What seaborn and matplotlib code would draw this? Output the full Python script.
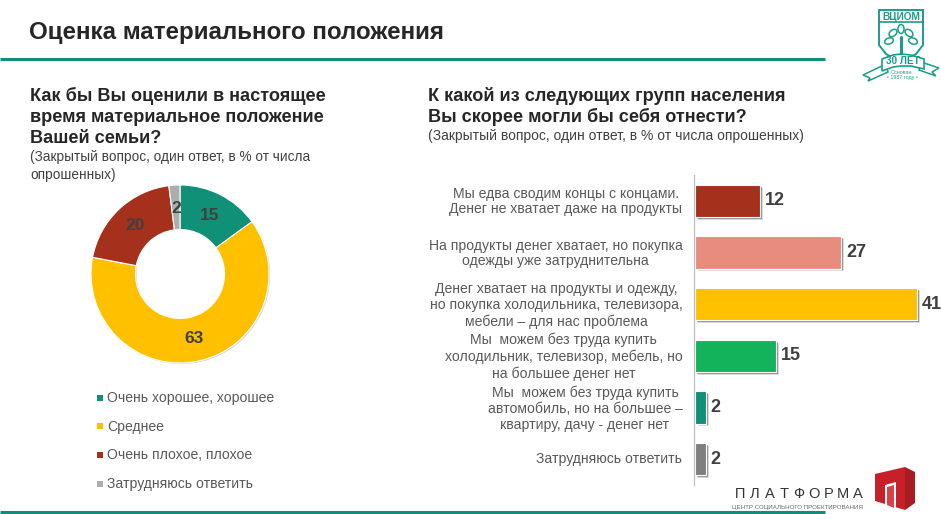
import matplotlib
matplotlib.use("Agg")
import matplotlib.pyplot as plt
import matplotlib.patheffects as pe
from matplotlib.patches import Polygon, Rectangle, Ellipse
from matplotlib.transforms import ScaledTranslation
import numpy as np
import pandas as pd
import seaborn as sns

sns.set_theme(style="white")
plt.rcParams['font.family'] = ['Liberation Sans', 'DejaVu Sans']

W, H = 941, 514

title = "Оценка материального положения"
left_question = ["Как бы Вы оценили в настоящее", "время материальное положение", "Вашей семьи?"]
left_note = ["(Закрытый вопрос, один ответ, в % от числа", "опрошенных)"]
right_question = ["К какой из следующих групп населения", "Вы скорее могли бы себя отнести?"]
right_note = "(Закрытый вопрос, один ответ, в % от числа опрошенных)"

pie_labels = ["Очень хорошее, хорошее", "Среднее", "Очень плохое, плохое", "Затрудняюсь ответить"]
pie_values = [15, 63, 20, 2]
pie_colors = ["#0F9077", "#FFC000", "#A5301C", "#ADADAD"]

bar_labels = [
    "Мы едва сводим концы с концами.\nДенег не хватает даже на продукты",
    "На продукты денег хватает, но покупка\nодежды уже затруднительна",
    "Денег хватает на продукты и одежду,\nно покупка холодильника, телевизора,\nмебели – для нас проблема",
    "Мы  можем без труда купить\nхолодильник, телевизор, мебель, но\nна большее денег нет",
    "Мы  можем без труда купить\nавтомобиль, но на большее –\nквартиру, дачу - денег нет",
    "Затрудняюсь ответить",
]
bar_values = [12, 27, 41, 15, 2, 2]
bar_colors = ["#A5301C", "#E88D7E", "#FFC000", "#12B35A", "#0F9077", "#7F7F7F"]

TEAL = "#0F8C7A"
LOGO = "#1A9E88"
DARK = "#262626"
GREY = "#404040"
MID = "#595959"


def box(x0, y0, x1, y1):
    return [x0 / W, 1 - y1 / H, (x1 - x0) / W, (y1 - y0) / H]


fig = plt.figure(figsize=(W / 100, H / 100), dpi=100, facecolor="white")

# Pixel overlay for text and decoration
ov = fig.add_axes([0, 0, 1, 1], zorder=5)
ov.set_xlim(0, W)
ov.set_ylim(H, 0)
ov.axis("off")
ov.patch.set_alpha(0)

ov.text(29, 32, title, fontsize=17.4, fontweight="bold", color=DARK, va="center", ha="left")
ov.plot([0, 825], [59, 59], color=TEAL, lw=2.2, solid_capstyle="butt")
ov.plot([0, 825], [512, 512], color=TEAL, lw=2.2, solid_capstyle="butt")

for i, s in enumerate(left_question):
    ov.text(30, 96 + i * 21.3, s, fontsize=13.1, fontweight="bold", color=DARK, va="center")
for i, s in enumerate(left_note):
    ov.text(30, 157 + i * 17.5, s, fontsize=9.8, color=GREY, va="center")
for i, s in enumerate(right_question):
    ov.text(428, 96 + i * 20.5, s, fontsize=13.1, fontweight="bold", color=DARK, va="center")
ov.text(428, 136, right_note, fontsize=10, color=GREY, va="center")

# Donut
ax_pie = fig.add_axes(box(91, 185, 269, 363))
wedges, _ = ax_pie.pie(
    pie_values, colors=pie_colors, startangle=90, counterclock=False, radius=1,
    wedgeprops=dict(width=0.5, edgecolor="white", linewidth=0.8),
)
wedges[1].set_path_effects([pe.SimplePatchShadow(offset=(0.8, -0.8), shadow_rgbFace="#888888", alpha=0.35), pe.Normal()])
ax_pie.set_xlim(-1, 1)
ax_pie.set_ylim(-1, 1)
cum = np.cumsum([0] + pie_values)
for v, a, b in zip(pie_values, cum[:-1], cum[1:]):
    th = np.deg2rad(90 - (a + b) / 2 * 3.6)
    ax_pie.text(0.74 * np.cos(th), 0.74 * np.sin(th), str(v), ha="center", va="center",
                fontsize=12.5, fontweight="bold", color=GREY)

# Donut legend
for i, (lab, col) in enumerate(zip(pie_labels, pie_colors)):
    y = 398 + i * 28.7
    ov.add_patch(Rectangle((97, y - 3.5), 6, 6, color=col, lw=0))
    ov.text(107, y, lab, fontsize=10.1, color=MID, va="center")

# Bars
ax_bar = fig.add_axes(box(693.5, 175, W, 485))
df = pd.DataFrame({"label": bar_labels, "value": bar_values})
sns.barplot(data=df, y="label", x="value", hue="label", palette=bar_colors, legend=False,
            order=bar_labels, hue_order=bar_labels, dodge=False, width=0.62, ax=ax_bar, saturation=1)
ax_bar.set_xlim(-0.28, (W - 695) / 5.41)
ax_bar.set_xlabel("")
ax_bar.set_ylabel("")
ax_bar.set_xticks([])
ax_bar.tick_params(axis="y", length=0, pad=8)
ax_bar.set_yticks(range(len(bar_labels)))
ax_bar.set_yticklabels(bar_labels, fontsize=10.1, color=MID, ha="right", linespacing=1.15, multialignment="center")
shift = ScaledTranslation(0, 1.5 / 100, fig.dpi_scale_trans)
for t in ax_bar.get_yticklabels():
    t.set_transform(t.get_transform() + shift)
    if t.get_text().count("\n") == 2:
        t.set_linespacing(1.2)
sns.despine(ax=ax_bar, top=True, right=True, bottom=True)
ax_bar.spines["left"].set_color("#BFBFBF")
ax_bar.spines["left"].set_linewidth(0.9)
for p in ax_bar.patches:
    p.set_edgecolor("white")
    p.set_linewidth(0.8)
    p.set_path_effects([
        pe.SimplePatchShadow(offset=(2.0, -2.0), shadow_rgbFace="#999999", alpha=0.35),
        pe.SimplePatchShadow(offset=(1.3, -1.3), shadow_rgbFace="#777777", alpha=0.7),
        pe.Normal(),
    ])
for cont in ax_bar.containers:
    ax_bar.bar_label(cont, padding=3.5, fontsize=13, fontweight="bold", color=GREY)

# VCIOM logo
shield = [(879, 10), (923, 10), (923, 45), (916, 54), (901, 62), (886, 54), (879, 45)]
ov.add_patch(Polygon(shield, closed=True, fill=False, ec=LOGO, lw=1.4))
ov.plot([879, 923], [22, 22], color=LOGO, lw=1.2)
ov.text(901, 16.5, "ВЦИОМ", fontsize=7.3, fontweight="bold", color=LOGO, ha="center", va="center")
ov.plot([901, 901], [53, 37], color=LOGO, lw=2.2)
for cx, cy, ang in [(901, 29, 0), (893, 33, 50), (909, 33, -50), (889, 41, 70), (913, 41, -70)]:
    ov.add_patch(Ellipse((cx, cy), 6, 9, angle=ang, fill=False, ec=LOGO, lw=1.1))
ov.add_patch(Polygon([(886, 64), (863, 75), (870, 78), (868, 81), (888, 72)], closed=True, fc="white", ec=LOGO, lw=1.1))
ov.add_patch(Polygon([(921, 62), (939, 68), (932, 72), (936, 76), (919, 70)], closed=True, fc="white", ec=LOGO, lw=1.1))
ov.add_patch(Polygon([(882, 59), (893, 55), (901, 54), (911, 55), (924, 59), (924, 69), (911, 66), (901, 66), (893, 67), (882, 71)],
                     closed=True, fc="white", ec=LOGO, lw=1.2))
ov.text(903, 61, "30 ЛЕТ", fontsize=7.2, fontweight="bold", color=LOGO, ha="center", va="center")
ov.text(902, 72, "Основан", fontsize=3.8, color=LOGO, ha="center", va="center")
ov.text(902, 78, "• 1987 году •", fontsize=3.8, color=LOGO, ha="center", va="center")

# Platforma logo
for i, ch in enumerate("ПЛАТФОРМА"):
    ov.text(740 + i * 14.7, 494, ch, fontsize=10.5, color="#333333", ha="center", va="center")
ov.text(798, 507, "ЦЕНТР СОЦИАЛЬНОГО ПРОЕКТИРОВАНИЯ", fontsize=4.4, color="#666666", ha="center", va="center")
ov.add_patch(Polygon([(875, 474), (905, 467), (905, 510), (875, 501)], closed=True, fc="#C8202A", lw=0))
ov.add_patch(Polygon([(905, 467), (915, 472), (915, 503), (905, 510)], closed=True, fc="#A81C22", lw=0))
ov.add_patch(Polygon([(885, 485), (896, 482), (896, 508), (885, 505)], closed=True, fc="white", lw=0))
ov.add_patch(Polygon([(887, 487), (894, 485), (894, 508), (887, 505)], closed=True, fc="#D8434A", lw=0))

fig.savefig("out.png", dpi=100)
